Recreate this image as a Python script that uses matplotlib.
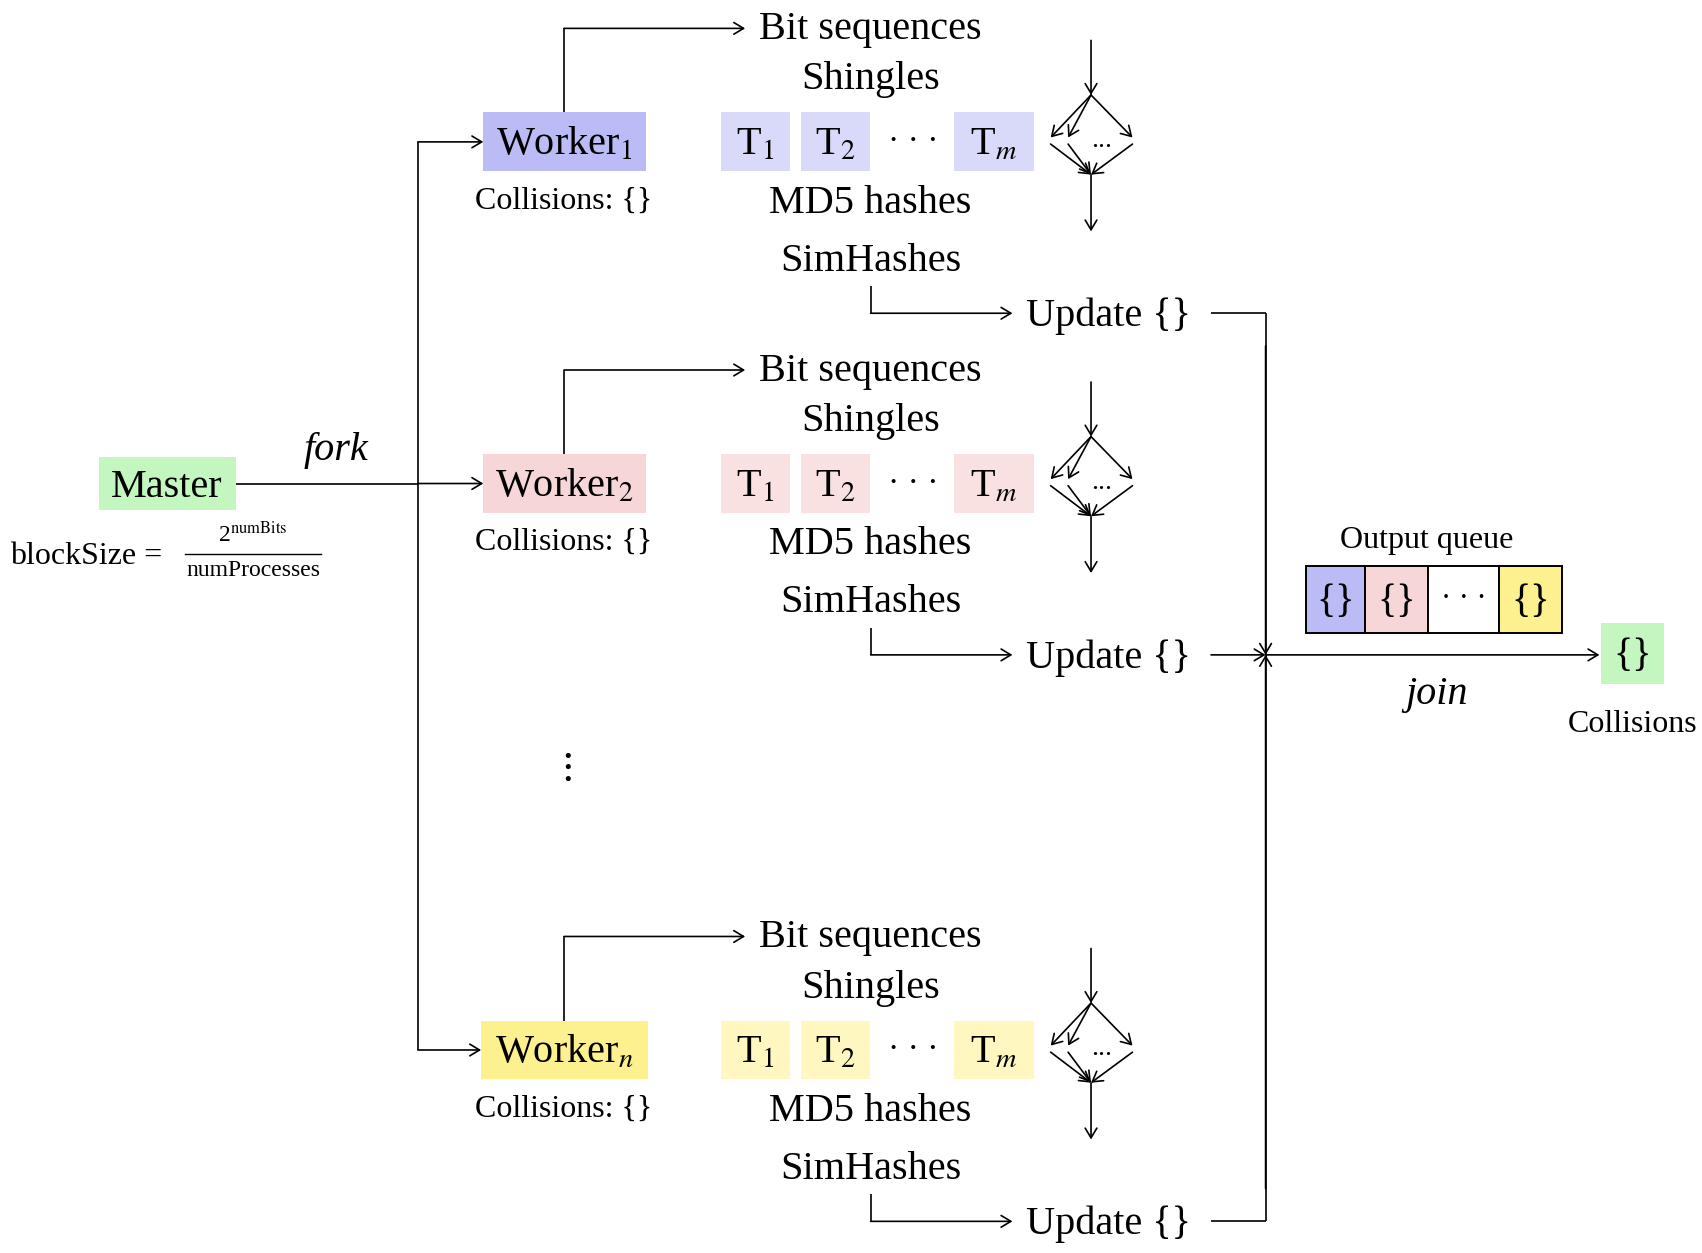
import matplotlib
matplotlib.use("Agg")
import matplotlib.pyplot as plt
from matplotlib.patches import Rectangle

# ---- data ----
worker_labels = ["Worker$_1$", "Worker$_2$", "Worker$_n$"]
worker_colors = ["#bbbcf6", "#f6d6d7", "#fdf08e"]
task_colors = ["#d9daf9", "#f9e1e1", "#fff6c0"]
task_labels = ["T$_1$", "T$_2$", "\u00b7 \u00b7 \u00b7", "T$_m$"]
stage_labels = ["Bit sequences", "Shingles", "MD5 hashes", "SimHashes"]
update_label = "Update {}"
collisions_label = "Collisions: {}"
queue_labels = ["{}", "{}", "\u00b7 \u00b7 \u00b7", "{}"]
queue_colors = ["#bbbcf6", "#f6d6d7", "#ffffff", "#fdf08e"]
master_label = "Master"
master_color = "#c3f7bf"
fork_label = "fork"
join_label = "join"
queue_title = "Output queue"
result_label = "Collisions"
block_lhs = "blockSize ="
block_num = "2$^{\\mathrm{numBits}}$"
block_den = "numProcesses"

plt.rcParams["font.family"] = ["Liberation Serif", "DejaVu Serif"]
plt.rcParams["mathtext.fontset"] = "stix"

fig = plt.figure(figsize=(17.02, 12.53), dpi=100)
ax = fig.add_axes([0, 0, 1, 1])
ax.set_xlim(0, 1560)
ax.set_ylim(1148, 0)
ax.axis("off")

LW = 1.2
BIG = 29
MID = 23
SMALL = 17
AST = "->,head_length=0.5,head_width=0.3"


def line(xs, ys):
    ax.plot(xs, ys, color="black", lw=LW, solid_capstyle="butt")


def arrow(x0, y0, x1, y1):
    ax.annotate("", xy=(x1, y1), xytext=(x0, y0),
                arrowprops=dict(arrowstyle=AST, lw=LW, color="black",
                                shrinkA=0, shrinkB=0, mutation_scale=14))


def box(x0, x1, y0, y1, color, edge=None):
    ax.add_patch(Rectangle((x0, y0), x1 - x0, y1 - y0, facecolor=color,
                           edgecolor=edge if edge else "none",
                           lw=1.4 if edge else 0, zorder=1))


def txt(x, y, s, size=BIG, ha="center", style="normal"):
    ax.text(x, y, s, fontsize=size, ha=ha, va="baseline", style=style, zorder=3)


row_y = [130, 443, 962]
cx = 517        # worker centre x
sx = 798        # stage text centre x
dx = 1000       # diamond x
trunk_x = 383
bus_x = 1160

task_x = [(661, 724), (734, 797), None, (874, 948)]

for i, wy in enumerate(row_y):
    # worker box
    wx0, wx1 = (443, 592) if i < 2 else (441, 594)
    box(wx0, wx1, wy - 27, wy + 27, worker_colors[i])
    txt(cx, wy + 12, worker_labels[i])
    txt(cx, wy + 61, collisions_label, size=MID)
    # fork arrow into worker
    arrow(trunk_x, wy, wx0, wy)
    # worker -> bit sequences
    line([cx, cx], [wy - 27, wy - 104])
    arrow(cx, wy - 104, 683, wy - 104)
    txt(sx, wy - 94, stage_labels[0])
    txt(sx, wy - 48, stage_labels[1])
    # tasks
    for j, lab in enumerate(task_labels):
        if task_x[j] is None:
            ax.text(837, wy, lab, fontsize=24, ha="center", va="center", zorder=3)
        else:
            x0, x1 = task_x[j]
            box(x0, x1, wy - 27, wy + 27, task_colors[i])
            txt((x0 + x1) / 2, wy + 12, lab)
    txt(sx, wy + 65, stage_labels[2])
    txt(sx, wy + 118, stage_labels[3])
    # diamond
    top, vtx, mid_a, mid_b, bot, end = wy - 93, wy - 43, wy - 4, wy + 2, wy + 30, wy + 82
    arrow(dx, top, dx, vtx)
    for ex in (dx - 37, dx - 21, dx + 38):
        arrow(dx, vtx, ex, mid_a)
        arrow(ex, mid_b, dx, bot)
    ax.text(dx + 10, wy - 1, "...", fontsize=20, ha="center", va="center")
    arrow(dx, bot, dx, end)
    # update
    uy = wy + 157
    line([sx, sx], [wy + 132, uy])
    arrow(sx, uy, 928, uy)
    txt(940, uy + 12, update_label, ha="left")
    if i == 1:
        arrow(1110, uy, bus_x, uy)
    else:
        line([1110, bus_x], [uy, uy])

# bus on the right
ux = [r + 157 for r in row_y]
line([bus_x, bus_x], [ux[0], ux[2]])
arrow(bus_x, ux[0] + 30, bus_x, ux[1])
arrow(bus_x, ux[2] - 30, bus_x, ux[1])
arrow(bus_x, ux[1], 1466, ux[1])
txt(1317, ux[1] + 45, join_label, style="italic")

# trunk from master
line([trunk_x, trunk_x], [row_y[0], row_y[2]])
box(91, 216, 419, 467, master_color)
txt(153, 455, master_label)
line([216, trunk_x], [443, 443])
txt(308, 421, fork_label, style="italic")

# vertical dots
ax.text(cx, 703, "$\\vdots$", fontsize=BIG, ha="center", va="center")

# block size
txt(9, 517, block_lhs, size=MID, ha="left")
ax.plot([170, 294], [508, 508], color="black", lw=1.0)
txt(232, 497, block_num, size=SMALL)
txt(232, 528, block_den, size=SMALL)

# output queue
txt(1308, 502, queue_title, size=MID)
qx = [1197, 1251, 1309, 1374, 1432]
for k, lab in enumerate(queue_labels):
    box(qx[k], qx[k + 1], 519, 580, queue_colors[k], edge="black")
    if lab == "{}":
        txt((qx[k] + qx[k + 1]) / 2, 561, lab)
    else:
        ax.text((qx[k] + qx[k + 1]) / 2, 549, lab, fontsize=22,
                ha="center", va="center", zorder=3)

# result
box(1467, 1525, 571, 627, master_color)
txt(1496, 610, "{}")
txt(1496, 671, result_label, size=MID)

fig.savefig("out.png", dpi=100)
